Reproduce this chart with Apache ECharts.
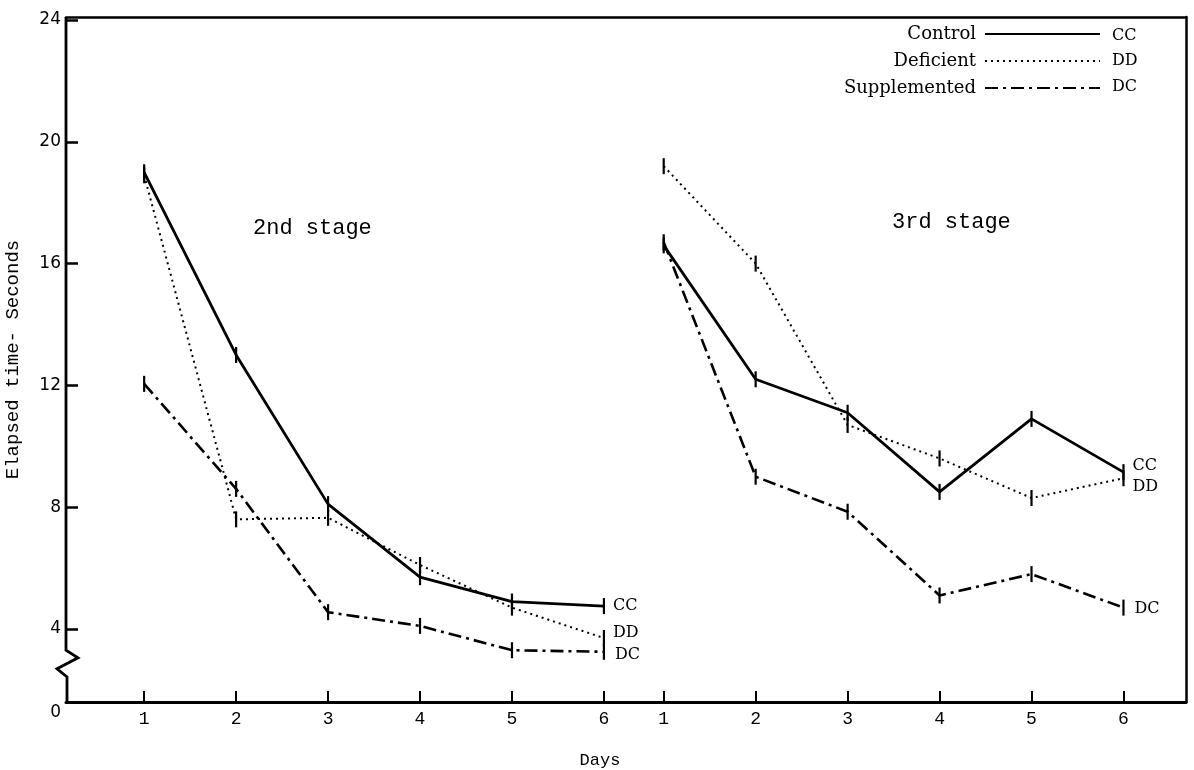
<!DOCTYPE html>
<html><head><meta charset="utf-8">
<script src="https://cdn.jsdelivr.net/npm/echarts@6/dist/echarts.min.js"></script>
<style>html,body{margin:0;padding:0;background:#fff}#c{width:1194px;height:770px}</style>
</head><body><div id="c"></div>
<script>
// ---- data ----
const days = [1, 2, 3, 4, 5, 6];
const stage2X = [1, 2, 3, 4, 5, 6];
const stage3X = [6.65, 7.65, 8.65, 9.65, 10.65, 11.65];
const cc2 = [19.0, 13.0, 8.1, 5.7, 4.9, 4.75];
const dd2 = [18.9, 7.6, 7.65, 6.1, 4.7, 3.7];
const dc2 = [12.05, 8.6, 4.55, 4.1, 3.3, 3.25];
const cc3 = [16.6, 12.2, 11.1, 8.5, 10.9, 9.15];
const dd3 = [19.2, 16.0, 10.7, 9.6, 8.3, 8.95];
const dc3 = [16.7, 9.0, 7.85, 5.1, 5.8, 4.7];
const yTicks = [4, 8, 12, 16, 20, 24];
const yBreakBottom = 1.6;      // axis bottom (shown as 0, broken axis)
const yBottomLabel = '0';
const groupNames = ['Control', 'Deficient', 'Supplemented'];
const groupCodes = ['CC', 'DD', 'DC'];
const stageLabels = ['2nd stage', '3rd stage'];

const X_MIN = 0.15, X_MAX = 12.33, Y_MAX = 24.1;
const MONO = '"Liberation Mono", "DejaVu Sans Mono", monospace';
const SERIF = '"DejaVu Serif", "Liberation Serif", serif';

const styles = [
  { type: 'solid', width: 2.8 },
  { type: [2, 4], width: 2 },
  { type: [13, 5, 3, 5], width: 2.6 }
];

function pairs(xs, ys) { return xs.map((x, i) => [x, ys[i]]); }

function mkSeries(gi, xs, ys, labelOffset) {
  return {
    type: 'line',
    name: groupNames[gi],
    data: pairs(xs, ys),
    symbol: 'rect',
    symbolSize: [2.2, 16],
    itemStyle: { color: '#000' },
    lineStyle: Object.assign({ color: '#000' }, styles[gi]),
    animation: false,
    silent: true,
    endLabel: {
      show: true,
      formatter: groupCodes[gi],
      fontFamily: SERIF,
      fontSize: 16,
      color: '#000',
      distance: 9,
      offset: labelOffset
    }
  };
}

const xLabelValues = stage2X.concat(stage3X);
const xLabelText = days.concat(days);

const chart = echarts.init(document.getElementById('c'), null, { renderer: 'canvas' });

const option = {
  backgroundColor: '#fff',
  animation: false,
  grid: { left: 66, right: 8, top: 17, bottom: 68, containLabel: false, outerBoundsMode: 'none' },
  xAxis: [{
    type: 'value', min: X_MIN, max: X_MAX,
    splitLine: { show: false },
    axisLine: { show: true, lineStyle: { color: '#000', width: 3 } },
    axisTick: { show: true, inside: true, length: 11, customValues: xLabelValues, lineStyle: { color: '#000', width: 2 } },
    axisLabel: {
      customValues: xLabelValues,
      formatter: v => { const i = xLabelValues.findIndex(a => Math.abs(a - v) < 1e-6); return i >= 0 ? String(xLabelText[i]) : ''; },
      fontFamily: MONO, fontSize: 18, color: '#000', margin: 8
    },
    name: 'Days', nameLocation: 'middle', nameGap: 50,
    nameTextStyle: { fontFamily: MONO, fontSize: 17, color: '#000', padding: [0, 52, 0, 0] }
  }, {
    type: 'value', min: X_MIN, max: X_MAX, position: 'top',
    splitLine: { show: false }, axisTick: { show: false }, axisLabel: { show: false },
    axisLine: { show: true, lineStyle: { color: '#000', width: 2.5 } }
  }],
  yAxis: [{
    type: 'value', min: yBreakBottom, max: Y_MAX,
    splitLine: { show: false },
    axisLine: { show: false },
    axisTick: { show: true, inside: true, length: 12, customValues: yTicks, lineStyle: { color: '#000', width: 2.5 } },
    axisLabel: {
      customValues: [yBreakBottom].concat(yTicks),
      formatter: v => (Math.abs(v - yBreakBottom) < 1e-6 ? '{z|' + yBottomLabel + '}' : String(v)),
      rich: { z: { padding: [22, 0, 0, 0], fontFamily: '"DejaVu Sans", sans-serif', fontSize: 17, color: '#000' } },
      fontFamily: '"DejaVu Sans", sans-serif', fontSize: 17, color: '#000', margin: 5
    },
    name: 'Elapsed time- Seconds', nameLocation: 'middle', nameRotate: 90, nameGap: 44,
    nameTextStyle: { fontFamily: MONO, fontSize: 19, color: '#000' }
  }, {
    type: 'value', min: yBreakBottom, max: Y_MAX, position: 'right',
    splitLine: { show: false }, axisTick: { show: false }, axisLabel: { show: false },
    axisLine: { show: true, lineStyle: { color: '#000', width: 2.5 } }
  }],
  legend: {
    orient: 'vertical', right: 88, top: 20, align: 'right',
    itemWidth: 115, itemHeight: 14, itemGap: 9,
    data: groupNames,
    textStyle: { fontFamily: SERIF, fontSize: 18, color: '#000', padding: [0, 4, 0, 0] },
    itemStyle: { opacity: 0 },
    selectedMode: false
  },
  graphic: [
    { type: 'text', left: 253, top: 217, style: { text: stageLabels[0], font: '22px ' + MONO, fill: '#000' } },
    { type: 'text', left: 892, top: 211, style: { text: stageLabels[1], font: '22px ' + MONO, fill: '#000' } },
    { type: 'text', left: 1112, top: 28, style: { text: groupCodes[0], font: '16px ' + SERIF, fill: '#000' } },
    { type: 'text', left: 1112, top: 53, style: { text: groupCodes[1], font: '16px ' + SERIF, fill: '#000' } },
    { type: 'text', left: 1112, top: 79, style: { text: groupCodes[2], font: '16px ' + SERIF, fill: '#000' } }
  ],
  series: [
    mkSeries(0, stage2X, cc2, [0, 0]),
    mkSeries(1, stage2X, dd2, [0, -5]),
    mkSeries(2, stage2X, dc2, [2, 3]),
    mkSeries(0, stage3X, cc3, [0, -6]),
    mkSeries(1, stage3X, dd3, [0, 9]),
    mkSeries(2, stage3X, dc3, [2, 1]),
    {
      // left axis line with break zigzag
      type: 'custom', silent: true, clip: false, animation: false,
      data: [[X_MIN, Y_MAX]],
      renderItem: function (params, api) {
        const top = api.coord([X_MIN, Y_MAX]);
        const a = api.coord([X_MIN, 3.3]);
        const b = api.coord([X_MIN, 3.05]);
        const c = api.coord([X_MIN, 2.69]);
        const d = api.coord([X_MIN, 2.42]);
        const e = api.coord([X_MIN, yBreakBottom]);
        return {
          type: 'polyline',
          shape: { points: [top, a, [b[0] + 12, b[1]], [c[0] - 9, c[1]], [d[0] + 1, d[1]], [e[0] + 1, e[1] + 1.5]] },
          style: { stroke: '#000', lineWidth: 2.8, fill: null, lineJoin: 'miter' }
        };
      }
    }
  ]
};
chart.setOption(option);
</script>
</body></html>
